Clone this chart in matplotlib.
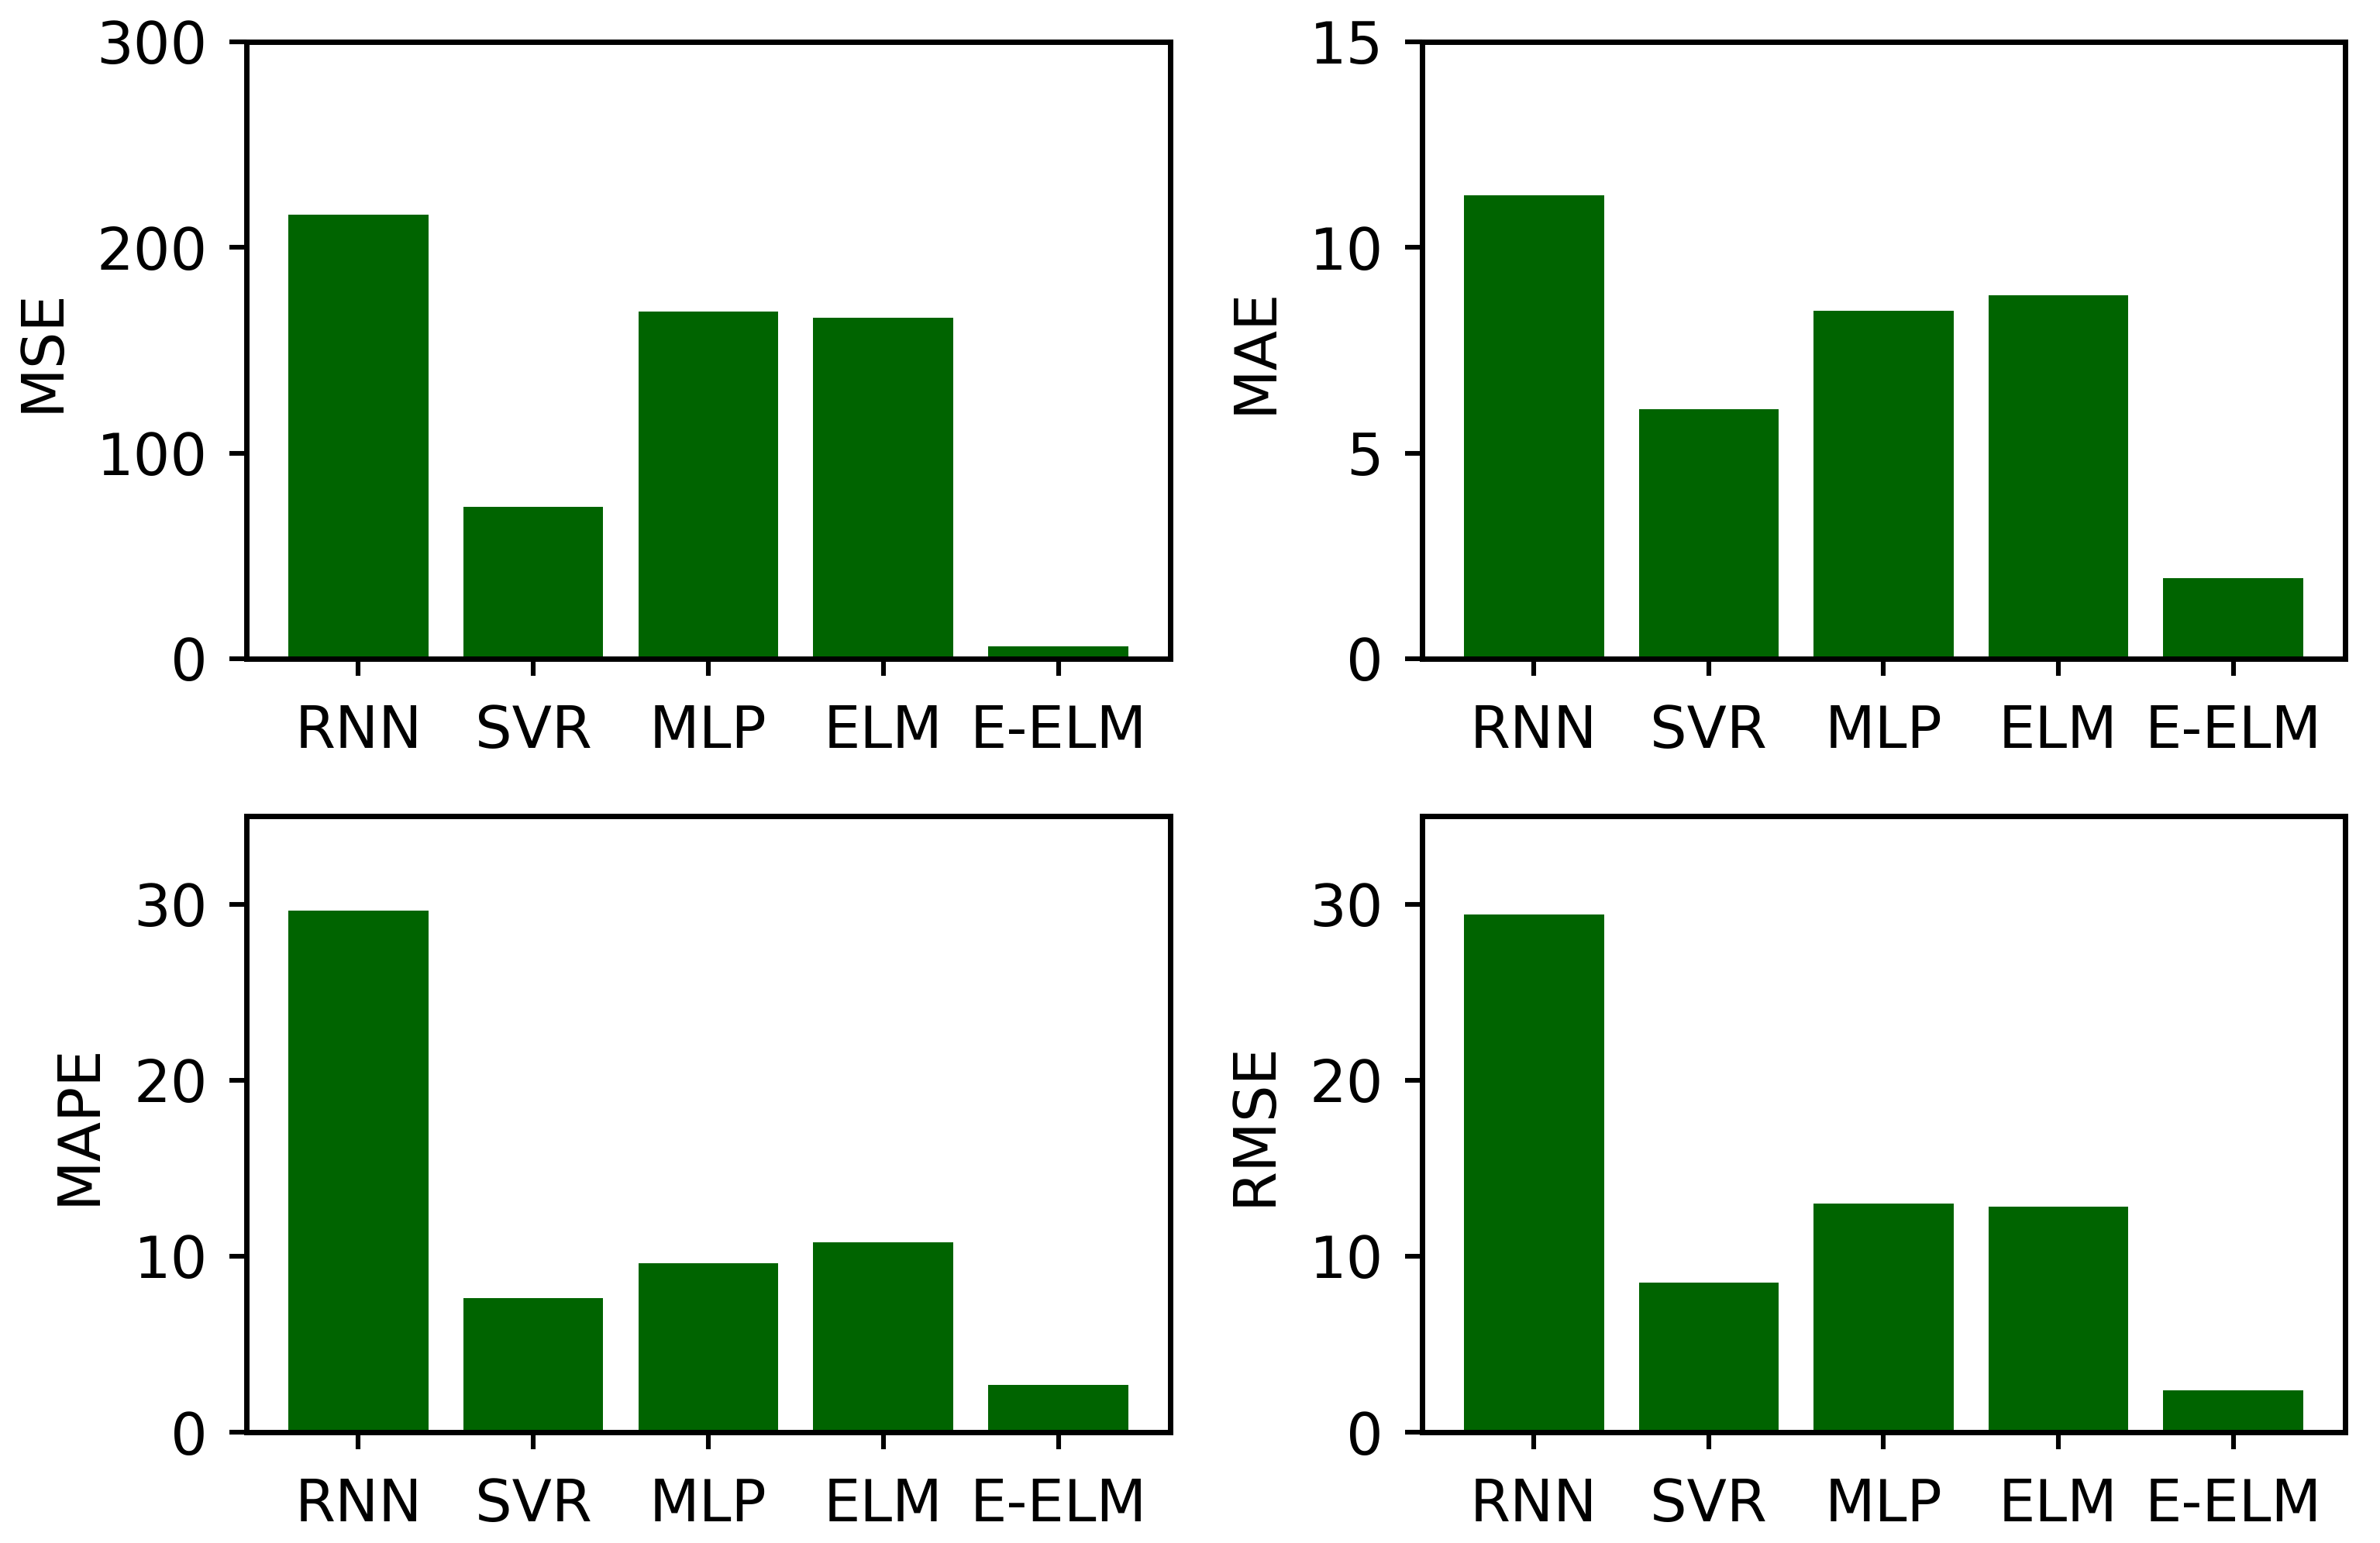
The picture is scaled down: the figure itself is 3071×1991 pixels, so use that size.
import matplotlib
matplotlib.use("Agg")
import matplotlib.pyplot as plt

models = ["RNN", "SVR", "MLP", "ELM", "E-ELM"]
mse = [216, 74, 169, 166, 6]
mae = [11.27, 6.06, 8.46, 8.83, 1.96]
mape = [29.65, 7.6, 9.6, 10.8, 2.7]
rmse = [29.4, 8.5, 13.0, 12.8, 2.4]

panels = [
    ("MSE", mse, (0, 300), [0, 100, 200, 300]),
    ("MAE", mae, (0, 15), [0, 5, 10, 15]),
    ("MAPE", mape, (0, 35), [0, 10, 20, 30]),
    ("RMSE", rmse, (0, 35), [0, 10, 20, 30]),
]

plt.rcParams['font.family'] = ['DejaVu Sans']
plt.rcParams['font.size'] = 13.5

fig, axes = plt.subplots(2, 2, figsize=(3071/400, 1991/400), dpi=400)
rects = [
    (0.1035, 0.5731, 0.3882, 0.3998),
    (0.5975, 0.5731, 0.3878, 0.3998),
    (0.1035, 0.0718, 0.3882, 0.3993),
    (0.5975, 0.0718, 0.3878, 0.3993),
]
for ax, (name, vals, ylim, yt), r in zip(axes.flat, panels, rects):
    ax.set_position(r)
    ax.bar(models, vals, color="darkgreen", width=0.8)
    ax.set_ylim(*ylim)
    ax.set_yticks(yt)
    ax.set_ylabel(name, fontsize=13.5, labelpad=6)
    for s in ax.spines.values():
        s.set_linewidth(1.25)
    ax.tick_params(axis='both', length=4, width=1.1, labelsize=13.5)
    ax.tick_params(axis='x', pad=6.5)
    ax.tick_params(axis='y', pad=5)

fig.savefig("out.png", dpi=400)
